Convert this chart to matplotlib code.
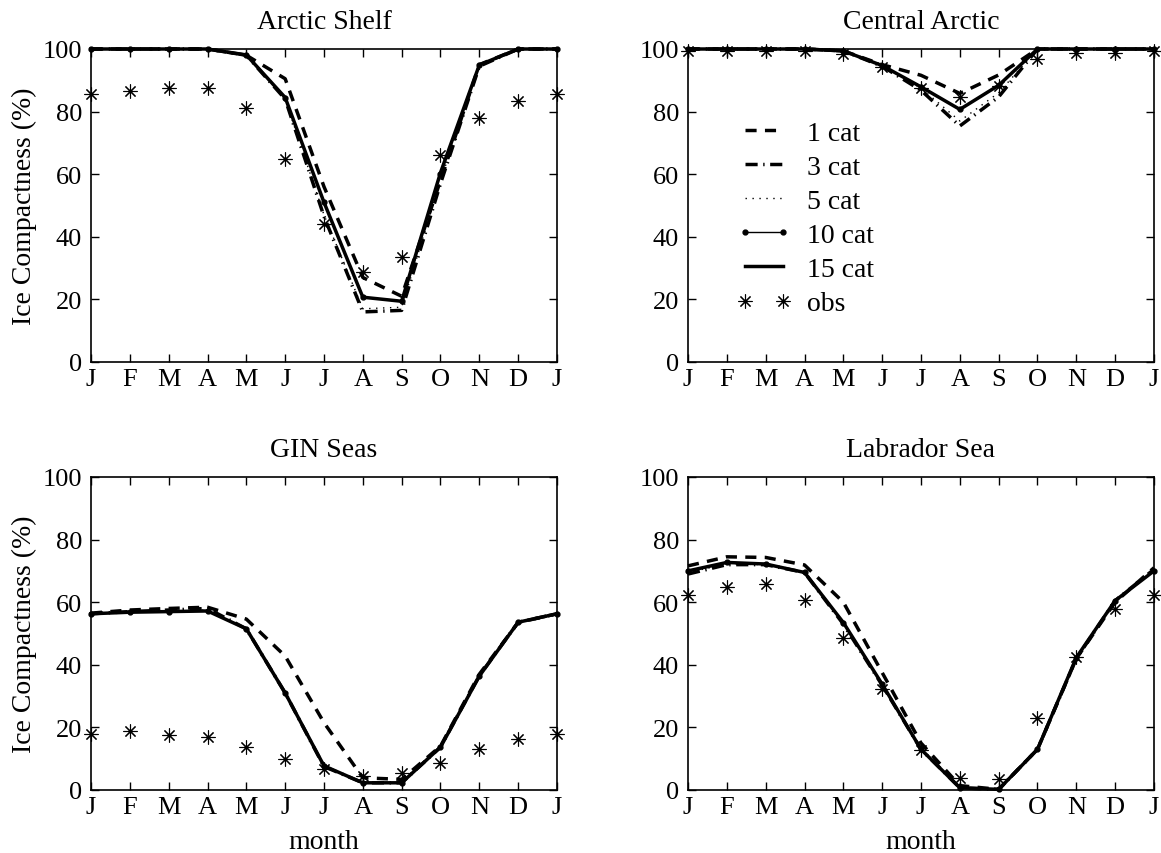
import matplotlib
matplotlib.use("Agg")
import matplotlib.pyplot as plt
import numpy as np

plt.rcParams['font.family'] = ['Liberation Serif', 'DejaVu Serif']
plt.rcParams['font.size'] = 15

months = ['J', 'F', 'M', 'A', 'M', 'J', 'J', 'A', 'S', 'O', 'N', 'D', 'J']
x = np.arange(13)

titles = ['Arctic Shelf', 'Central Arctic', 'GIN Seas', 'Labrador Sea']

# Arctic Shelf
as_1 = [100, 100, 100, 100, 98, 90.5, 56, 27, 21, 58, 95, 100, 100]
as_3 = [100, 100, 100, 100, 98, 84, 46.5, 16, 16.5, 57, 94.5, 100, 100]
as_5 = [100, 100, 100, 100, 98, 84, 47, 17, 17.5, 58, 94.5, 100, 100]
as_10 = [100, 100, 100, 100, 98, 84.5, 51, 20.7, 19.5, 60, 95, 100, 100]
as_15 = [100, 100, 100, 100, 98.1, 84.5, 51, 20.7, 19.4, 60.5, 94.9, 100, 100]
as_obs = [85.6, 86.7, 87.4, 87.4, 81.2, 65, 44, 28.8, 33.6, 66, 78.1, 83.5, 85.6]

# Central Arctic
ca_1 = [100, 100, 100, 100, 99.4, 95, 91.6, 85.8, 91.7, 100, 100, 100, 100]
ca_3 = [100, 100, 100, 100, 99.4, 94.5, 86.8, 75.4, 84.7, 100, 100, 100, 100]
ca_5 = [100, 100, 100, 100, 99.4, 94.5, 87.5, 77, 86, 100, 100, 100, 100]
ca_10 = [100, 100, 100, 100, 99.4, 94.7, 87.9, 80.7, 88.4, 100, 100, 100, 100]
ca_15 = [100, 100, 100, 100, 99.4, 94.7, 87.9, 80.7, 88.4, 100, 100, 100, 100]
ca_obs = [99.4, 99.4, 99.4, 99.4, 98.3, 94.3, 87.6, 84.7, 88.2, 96.8, 98.6, 98.6, 99.4]

# GIN Seas
gin_1 = [56.5, 57.5, 58, 58.4, 54.6, 42.8, 21.5, 3.9, 3.4, 14, 37, 53.5, 56.3]
gin_3 = [56.3, 57, 57.5, 58, 51.5, 31, 7.5, 2.3, 2.3, 13.7, 36.5, 53.6, 56.3]
gin_5 = [56.3, 57, 57.2, 57.5, 51.5, 31, 7.5, 2.3, 2.3, 13.7, 36.4, 53.6, 56.3]
gin_10 = [56.3, 56.8, 57, 57.2, 51.5, 31, 7.7, 2.3, 2.3, 13.7, 36.4, 53.6, 56.3]
gin_15 = [56.3, 56.8, 57, 57.2, 51.5, 31, 7.7, 2.3, 2.3, 13.7, 36.4, 53.6, 56.3]
gin_obs = [17.8, 18.8, 17.5, 17.0, 13.7, 10.0, 6.6, 4.5, 5.5, 8.5, 13.0, 16.2, 17.8]

# Labrador Sea
lab_1 = [71.6, 74.5, 74.3, 71.9, 60, 37.5, 15, 1.4, 0.2, 13, 42, 60, 71]
lab_3 = [69, 72, 72, 69.5, 53, 33.5, 13, 0.7, 0.2, 13, 42, 60.5, 70.5]
lab_5 = [69.5, 72.2, 72, 69.5, 53.5, 33.8, 13, 0.7, 0.2, 13, 42.3, 60.5, 70]
lab_10 = [70, 72.7, 72.2, 69.5, 53.5, 33.8, 13, 0.7, 0.2, 13, 42.3, 60.5, 70]
lab_15 = [70, 72.7, 72.2, 69.5, 53.5, 33.8, 13, 0.7, 0.2, 13, 42.3, 60.5, 70]
lab_obs = [62.3, 64.7, 65.7, 60.7, 48.6, 32.2, 12.8, 3.9, 3.4, 23.1, 42.6, 57.7, 62.3]

data = [
    (as_1, as_3, as_5, as_10, as_15, as_obs),
    (ca_1, ca_3, ca_5, ca_10, ca_15, ca_obs),
    (gin_1, gin_3, gin_5, gin_10, gin_15, gin_obs),
    (lab_1, lab_3, lab_5, lab_10, lab_15, lab_obs),
]
labels = ['1 cat', '3 cat', '5 cat', '10 cat', '15 cat', 'obs']

W, H = 1161, 854
fig = plt.figure(figsize=(W / 100, H / 100), dpi=100)
lefts = [91, 688, 91, 688]
tops = [50, 50, 478, 478]
aw, ah = 466, 313

for i in range(4):
    ax = fig.add_axes([lefts[i] / W, 1 - (tops[i] + ah) / H, aw / W, ah / H])
    d1, d3, d5, d10, d15, dobs = data[i]
    ax.plot(x, d1, color='k', lw=2.5, ls=(0, (3.2, 2.4)), label=labels[0])
    ax.plot(x, d3, color='k', lw=2.5, ls=(0, (3.5, 1.6, 0.4, 1.6)), label=labels[1])
    ax.plot(x, d5, color='k', lw=1.0, ls=(0, (1, 4)), label=labels[2])
    ax.plot(x, d10, color='k', lw=1.0, marker='o', ms=3.5, label=labels[3])
    ax.plot(x, d15, color='k', lw=2.5, label=labels[4])
    ax.plot(x, dobs, color='k', ls='none', marker=(8, 2, 0), ms=10, mew=0.8,
            label=labels[5])
    ax.set_xlim(0, 12)
    ax.set_ylim(0, 100)
    ax.set_xticks(x)
    ax.set_xticklabels(months)
    ax.set_yticks([0, 20, 40, 60, 80, 100])
    ax.tick_params(direction='in', top=True, right=True, length=6, width=1,
                   labelsize=19)
    ax.tick_params(axis='y', pad=6.5)
    ax.tick_params(axis='x', pad=4)
    for s in ax.spines.values():
        s.set_linewidth(1.2)
    ax.set_title(titles[i], fontsize=20, pad=15)
    if i in (0, 2):
        ax.set_ylabel('Ice Compactness (%)', fontsize=20, labelpad=4)
    if i in (2, 3):
        ax.set_xlabel('month', fontsize=20, labelpad=8)
    for ln in ax.lines:
        ln.set_clip_on(False)
    if i == 1:
        ax.legend(loc='upper left', bbox_to_anchor=(0.0805, 0.807), frameon=False,
                  numpoints=2, fontsize=20, handlelength=1.97, handletextpad=0.56,
                  labelspacing=0.31, borderaxespad=0)

fig.savefig('out.png', dpi=100)
